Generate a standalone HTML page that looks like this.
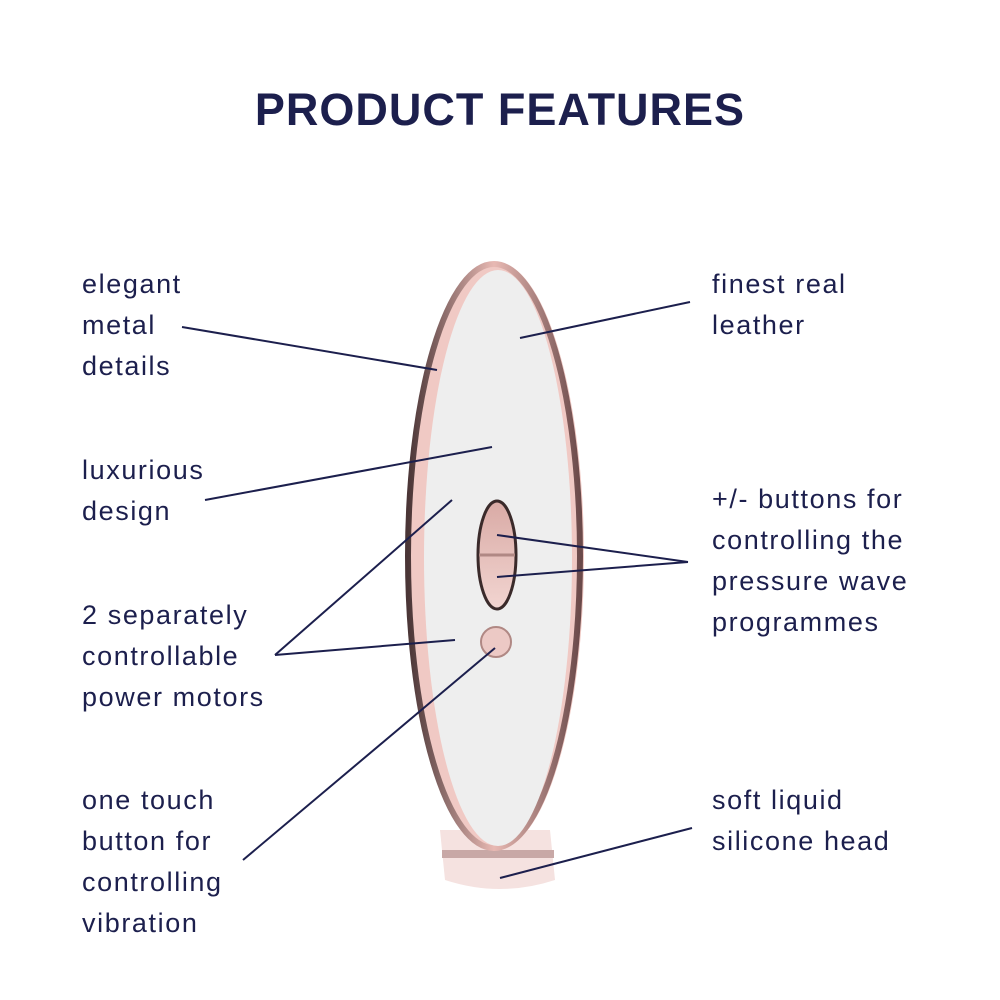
<!DOCTYPE html><html><head><style>
body{margin:0;width:1000px;height:1000px;background:#fff;position:relative;overflow:hidden;font-family:"Liberation Sans",sans-serif;color:#1c1f4d}
.t{position:absolute;font-size:27px;line-height:41px;letter-spacing:1.6px}
h1{position:absolute;top:84px;left:0;width:1000px;text-align:center;margin:0;font-size:45px;font-weight:bold;letter-spacing:1px;color:#1c1f4d}
</style></head><body>
<svg width="1000" height="1000" style="position:absolute;left:0;top:0">
<defs>
<linearGradient id="rim" x1="0" x2="1" y1="0" y2="0"><stop offset="0" stop-color="#4a3536"/><stop offset="0.5" stop-color="#e8b9b3"/><stop offset="1" stop-color="#6b4a4a"/></linearGradient>
<linearGradient id="btn" x1="0" x2="0" y1="0" y2="1"><stop offset="0" stop-color="#d9aaa5"/><stop offset="1" stop-color="#f2d5d1"/></linearGradient>
</defs>
<path d="M440 830 L550 830 L555 880 Q500 898 445 880 Z" fill="#f5e2e0"/>
<rect x="442" y="850" width="112" height="8" fill="#c8a8a6"/>
<ellipse cx="496" cy="556" rx="88" ry="294" fill="#f0c9c4"/>
<ellipse cx="494" cy="556" rx="86" ry="292" fill="none" stroke="url(#rim)" stroke-width="6"/>
<ellipse cx="498" cy="558" rx="74" ry="288" fill="#eeeeee"/>
<ellipse cx="497" cy="555" rx="19" ry="54" fill="url(#btn)" stroke="#3a2a2a" stroke-width="3"/>
<line x1="479" y1="555" x2="515" y2="555" stroke="#b08884" stroke-width="3"/>
<circle cx="496" cy="642" r="15" fill="#ecc9c5" stroke="#b08884" stroke-width="2"/>
<g stroke="#1c1f4d" stroke-width="2" fill="none">
<line x1="182" y1="327" x2="437" y2="370"/>
<line x1="520" y1="338" x2="690" y2="302"/>
<line x1="205" y1="500" x2="492" y2="447"/>
<line x1="275" y1="655" x2="452" y2="500"/>
<line x1="275" y1="655" x2="455" y2="640"/>
<line x1="497" y1="535" x2="688" y2="562"/>
<line x1="497" y1="577" x2="688" y2="562"/>
<line x1="243" y1="860" x2="495" y2="648"/>
<line x1="500" y1="878" x2="692" y2="828"/>
</g></svg>
<h1>PRODUCT FEATURES</h1>
<div class="t" style="left:82px;top:264px">elegant<br>metal<br>details</div>
<div class="t" style="left:82px;top:450px">luxurious<br>design</div>
<div class="t" style="left:82px;top:595px">2 separately<br>controllable<br>power motors</div>
<div class="t" style="left:82px;top:780px">one touch<br>button for<br>controlling<br>vibration</div>
<div class="t" style="left:712px;top:264px">finest real<br>leather</div>
<div class="t" style="left:712px;top:479px">+/- buttons for<br>controlling the<br>pressure wave<br>programmes</div>
<div class="t" style="left:712px;top:780px">soft liquid<br>silicone head</div>
</body></html>
